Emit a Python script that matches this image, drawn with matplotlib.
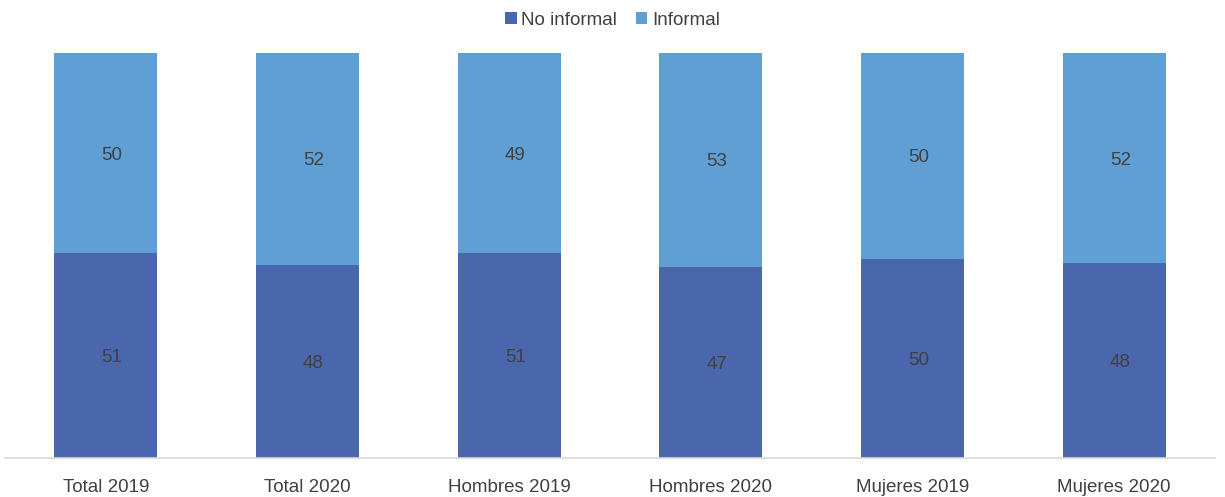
import numpy as np
import matplotlib.pyplot as plt

plt.rcParams["font.family"] = ["Liberation Sans", "DejaVu Sans"]

# =========================
# DATA
# =========================
categories = ["Total 2019", "Total 2020", "Hombres 2019", "Hombres 2020", "Mujeres 2019", "Mujeres 2020"]
no_informal = [50.5, 47.7, 50.6, 47.2, 49.2, 48.1]   # share (%)
informal = [49.5, 52.3, 49.4, 52.8, 50.8, 51.9]
label_no_informal = [51, 48, 51, 47, 50, 48]           # values printed on the bars
label_informal = [50, 52, 49, 53, 50, 52]

# =========================
# PLOT
# =========================
fig = plt.figure(figsize=(12.25, 4.97), dpi=100)
ax = fig.add_axes([5 / 1225, 1 - 458 / 497, 1210 / 1225, 405 / 497])

x = np.arange(len(categories))
c_dark = "#4A66AC"
c_light = "#5F9FD4"

b1 = ax.bar(x, no_informal, width=0.51, color=c_dark, label="No informal")
b2 = ax.bar(x, informal, width=0.51, bottom=no_informal, color=c_light, label="Informal")

for i in range(len(categories)):
    ax.text(x[i] + 0.03, no_informal[i] / 2, str(label_no_informal[i]), ha="center",
            va="center_baseline", fontsize=13.5, color="#404040")
    ax.text(x[i] + 0.03, no_informal[i] + informal[i] / 2, str(label_informal[i]), ha="center",
            va="center_baseline", fontsize=13.5, color="#404040")

ax.set_xlim(-0.5, len(categories) - 0.5)
ax.set_ylim(0, 100)
ax.set_xticks(x)
ax.set_xticklabels(categories, fontsize=13.5, color="#404040")
ax.tick_params(axis="x", length=0, pad=15)
ax.set_yticks([])
for s in ["top", "right", "left"]:
    ax.spines[s].set_visible(False)
ax.spines["bottom"].set_color("#D9D9D9")
ax.spines["bottom"].set_linewidth(1.2)

fig.legend(handles=[b1, b2], loc="upper center", bbox_to_anchor=(0.5, 1.01), ncol=2,
           frameon=False, fontsize=13.5, handlelength=0.6, handleheight=0.6,
           handletextpad=0.25, columnspacing=1.0, labelcolor="#404040")

plt.savefig("out.png", dpi=100)
